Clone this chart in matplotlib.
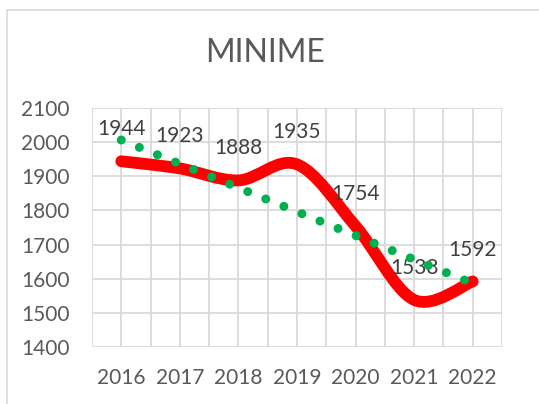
import matplotlib
matplotlib.use("Agg")
import matplotlib.pyplot as plt
from matplotlib.path import Path
from matplotlib.patches import PathPatch, Rectangle
import numpy as np

years = [2016, 2017, 2018, 2019, 2020, 2021, 2022]
values = [1944, 1923, 1888, 1935, 1754, 1538, 1592]
y_ticks = [1400, 1500, 1600, 1700, 1800, 1900, 2000, 2100]

text_grey = "#595959"
label_grey = "#404040"
plt.rcParams["font.family"] = ["Lato", "DejaVu Sans"]


def smooth_path(xs, ys):
    # Excel-style smoothed line: cubic Bezier through each point
    pts = np.column_stack([xs, ys]).astype(float)
    ext = np.vstack([pts[0], pts, pts[-1]])
    verts = [tuple(pts[0])]
    codes = [Path.MOVETO]
    for i in range(len(pts) - 1):
        p0, p1, p2, p3 = ext[i], ext[i + 1], ext[i + 2], ext[i + 3]
        c1 = p1 + (p2 - p0) / 6.0
        c2 = p2 - (p3 - p1) / 6.0
        verts += [tuple(c1), tuple(c2), tuple(p2)]
        codes += [Path.CURVE4] * 3
    return Path(verts, codes)


fig = plt.figure(figsize=(5.39, 4.04), dpi=100)
fig.patches.append(Rectangle((7 / 539, -0.1), 1.2, (394 / 404) + 0.1,
                             transform=fig.transFigure, fill=False,
                             edgecolor="#d9d9d9", linewidth=1.2))
ax = fig.add_axes([92 / 539, 57 / 404, 410 / 539, 239 / 404])

ax.set_xlim(2015.5, 2022.5)
ax.set_ylim(1400, 2100)
ax.set_xticks(years)
ax.set_xticks([y - 0.5 for y in years] + [years[-1] + 0.5], minor=True)
ax.set_yticks(y_ticks)
ax.grid(True, which="both", color="#d9d9d9", linewidth=1.3)
ax.set_axisbelow(True)
for s in ax.spines.values():
    s.set_visible(False)
ax.tick_params(which="both", length=0)
ax.tick_params(axis="x", pad=15, labelsize=15, labelcolor=text_grey)
ax.tick_params(axis="y", pad=16, labelsize=15, labelcolor=text_grey)

patch = PathPatch(smooth_path(years, values), facecolor="none",
                  edgecolor="#ff0000", linewidth=8.5, capstyle="round",
                  joinstyle="round", zorder=3)
ax.add_patch(patch)

# linear trendline
slope, intercept = np.polyfit(years, values, 1)
tx = np.array([years[0], years[-1]])
ax.plot(tx, slope * tx + intercept, color="#00b050", linewidth=6.5,
        linestyle=(0, (0.001, 2.16)), dash_capstyle="round", zorder=5)

for x, v in zip(years, values):
    ax.annotate(str(v), (x, v), xytext=(0, 23), textcoords="offset points",
                ha="center", va="center", fontsize=15, color=label_grey,
                zorder=4)

fig.text(265 / 539, 1 - 53 / 404, "MINIME", ha="center", va="center",
         fontsize=23, color=text_grey)

fig.savefig("out.png", dpi=100)
